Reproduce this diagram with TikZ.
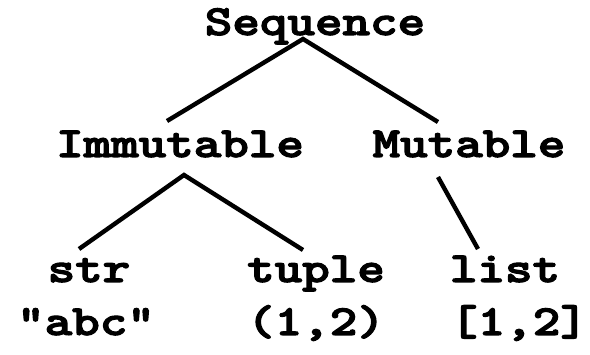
\documentclass[tikz,border=0pt]{standalone}
\usepackage{fontspec}
\newfontfamily\codefont{lmmonolt10-bold.otf}[FakeBold=2.5]

% wide typewriter labels
\newcommand\wlabel[1]{\scalebox{1.22}[1]{#1}}

\begin{document}
\begin{tikzpicture}[
        x=1pt, y=-1pt,
        every node/.style={anchor=base, inner sep=0pt, font=\codefont\fontsize{43}{47}\selectfont},
        edge/.style={line width=4.4pt}]
        \useasboundingbox (0,0) rectangle (590,355);
        % type names
        \node (seq) at (315,35) {\wlabel{Sequence}};
        \node (imm) at (180,157) {\wlabel{Immutable}};
        \node (mut) at (469,157) {\wlabel{Mutable}};
        \node (str) at (89,282) {\wlabel{str}};
        \node (tup) at (316,282) {\wlabel{tuple}};
        \node (lst) at (505,282) {\wlabel{list}};
        % literals
        \node (strex) at (86,335) {\wlabel{"abc"}};
        \node (tupex) at (316,335) {\wlabel{(1,2)}};
        \node (lstex) at (519,335) {\wlabel{[1,2]}};
        % branches
        \draw[edge] ([xshift=-13pt,yshift=36pt]imm.base) -- ([xshift=-12pt,yshift=-4pt]seq.base) -- ([xshift=-31pt,yshift=35pt]mut.base);
        \draw[edge] ([xshift=-10pt,yshift=33pt]str.base) -- ([xshift=4pt,yshift=-18pt]imm.base) -- ([xshift=-13pt,yshift=32pt]tup.base);
        \draw[edge] ([xshift=-31pt,yshift=-20pt]mut.base) -- ([xshift=-27pt,yshift=33pt]lst.base);
\end{tikzpicture}
\end{document}
